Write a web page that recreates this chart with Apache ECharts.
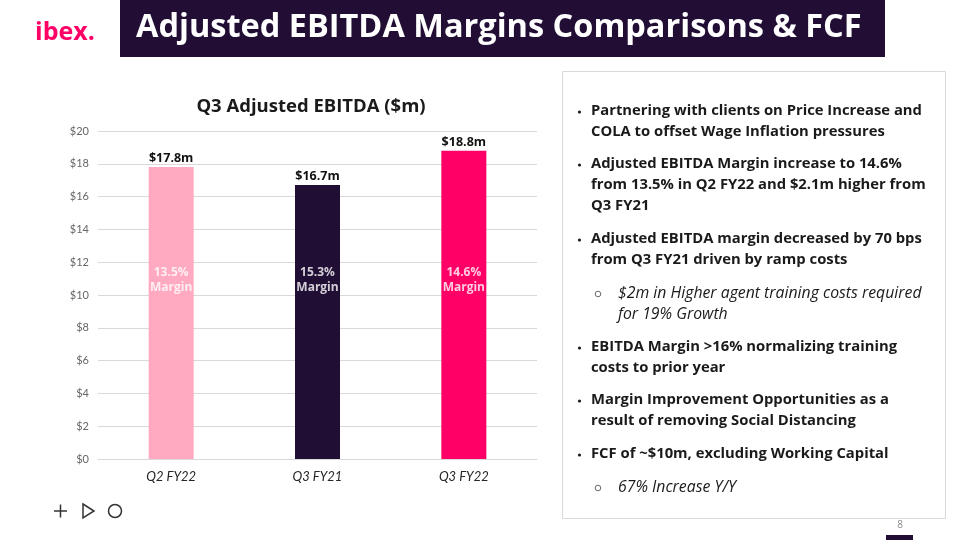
<!DOCTYPE html>
<html>
<head>
<meta charset="utf-8">
<script src="https://cdn.jsdelivr.net/npm/echarts@6/dist/echarts.min.js"></script>
<style>
html,body{margin:0;padding:0;background:#fff;}
#c{width:960px;height:540px;}
</style>
</head>
<body>
<div id="c"></div>
<script>
var categories = ['Q2 FY22', 'Q3 FY21', 'Q3 FY22'];
var ebitda = [17.8, 16.7, 18.8];
var margins = ['13.5%', '15.3%', '14.6%'];
var barColors = ['#ffaac0', '#200e35', '#ff0066'];
var marginLabelLevel = [10.9, 10.9, 10.9];
var yTicks = [0, 2, 4, 6, 8, 10, 12, 14, 16, 18, 20];

var bullets = [
  {lines: ['Partnering with clients on Price Increase and', 'COLA to offset Wage Inflation pressures'], y: 111, sub: false},
  {lines: ['Adjusted EBITDA Margin increase to 14.6%', 'from 13.5% in Q2 FY22 and $2.1m higher from', 'Q3 FY21'], y: 164, sub: false},
  {lines: ['Adjusted EBITDA margin decreased by 70 bps', 'from Q3 FY21 driven by ramp costs'], y: 239, sub: false},
  {lines: ['$2m in Higher agent training costs required', 'for 19% Growth'], y: 293, sub: true},
  {lines: ['EBITDA Margin >16% normalizing training', 'costs to prior year'], y: 347, sub: false},
  {lines: ['Margin Improvement Opportunities as a', 'result of removing Social Distancing'], y: 400, sub: false},
  {lines: ['FCF of ~$10m, excluding Working Capital'], y: 454, sub: false},
  {lines: ['67% Increase Y/Y'], y: 487, sub: true}
];

var FONT = '"Open Sans"';
var graphics = [
  {type: 'rect', shape: {x: 120, y: 0, width: 765, height: 57}, style: {fill: '#220e35'}},
  {type: 'text', style: {text: 'Adjusted EBITDA Margins Comparisons & FCF', x: 136, y: 28, textVerticalAlign: 'middle', fill: '#ffffff', font: 'bold 32.5px ' + FONT}},
  {type: 'text', style: {text: 'ibex.', x: 35, y: 33, textVerticalAlign: 'middle', fill: '#ff0066', font: 'bold 25px ' + FONT}},
  {type: 'rect', shape: {x: 562.5, y: 71.5, width: 383, height: 447}, style: {fill: 'none', stroke: '#d9d9d9', lineWidth: 1}},
  {type: 'text', style: {text: '8', x: 900, y: 525, textAlign: 'center', textVerticalAlign: 'middle', fill: '#8c8c8c', font: '10px ' + FONT}},
  {type: 'rect', shape: {x: 886, y: 535, width: 27, height: 5}, style: {fill: '#220e35'}},
  // icons
  {type: 'line', shape: {x1: 54, y1: 511, x2: 67, y2: 511}, style: {stroke: '#333', lineWidth: 1.5}},
  {type: 'line', shape: {x1: 60.5, y1: 504.5, x2: 60.5, y2: 517.5}, style: {stroke: '#333', lineWidth: 1.5}},
  {type: 'polygon', shape: {points: [[83, 504], [94, 511], [83, 518]]}, style: {fill: 'none', stroke: '#333', lineWidth: 1.5}},
  {type: 'circle', shape: {cx: 115, cy: 511, r: 6.5}, style: {fill: 'none', stroke: '#333', lineWidth: 1.5}}
];

bullets.forEach(function (b) {
  var tx = b.sub ? 618 : 591;
  if (b.sub) {
    graphics.push({type: 'circle', shape: {cx: 598, cy: b.y + 1, r: 2.8}, style: {fill: 'none', stroke: '#595959', lineWidth: 0.9}});
  } else {
    graphics.push({type: 'circle', shape: {cx: 579.5, cy: b.y + 1, r: 1.6}, style: {fill: '#1a1a1a'}});
  }
  b.lines.forEach(function (ln, i) {
    graphics.push({type: 'text', style: {
      text: ln, x: tx, y: b.y + i * 21, textVerticalAlign: 'middle',
      fill: '#1a1a1a', font: (b.sub ? 'italic 15.8px ' : 'bold 14.8px ') + FONT}});
  });
});

var chart = echarts.init(document.getElementById('c'));
chart.setOption({
  animation: false,
  title: {text: 'Q3 Adjusted EBITDA ($m)', left: 306, top: 92, textAlign: 'center',
    textStyle: {fontFamily: FONT, fontWeight: 'bold', fontSize: 18.5, color: '#1a1a1a'}},
  grid: {left: 98, right: 423, top: 131, bottom: 81},
  xAxis: {
    type: 'category', data: categories,
    axisLine: {lineStyle: {color: '#d9d9d9'}}, axisTick: {show: false},
    axisLabel: {fontFamily: 'Lato', fontStyle: 'italic', fontSize: 13, color: '#262626', margin: 11}
  },
  yAxis: {
    type: 'value', min: 0, max: 20, interval: 2,
    axisLine: {show: false}, axisTick: {show: false},
    splitLine: {lineStyle: {color: '#d9d9d9', width: 1}},
    axisLabel: {fontFamily: 'Lato', fontSize: 11, color: '#666666', margin: 9,
      formatter: function (v) { return yTicks.indexOf(v) >= 0 ? '$' + v : ''; }}
  },
  series: [
    {
      type: 'bar', barWidth: 45,
      data: ebitda.map(function (v, i) { return {value: v, itemStyle: {color: barColors[i]}}; }),
      label: {show: true, position: 'top', distance: 2, fontFamily: FONT, fontWeight: 'bold', fontSize: 12.5, color: '#111',
        formatter: function (p) { return '$' + p.value.toFixed(1) + 'm'; }}
    },
    {
      type: 'scatter', symbolSize: 0, silent: true,
      data: marginLabelLevel,
      label: {show: true, position: 'inside', fontFamily: FONT, fontWeight: 'bold', fontSize: 12, color: '#ffffff', lineHeight: 15,
        formatter: function (p) { return margins[p.dataIndex] + '\nMargin'; }}
    }
  ],
  graphic: graphics
});
</script>
</body>
</html>
